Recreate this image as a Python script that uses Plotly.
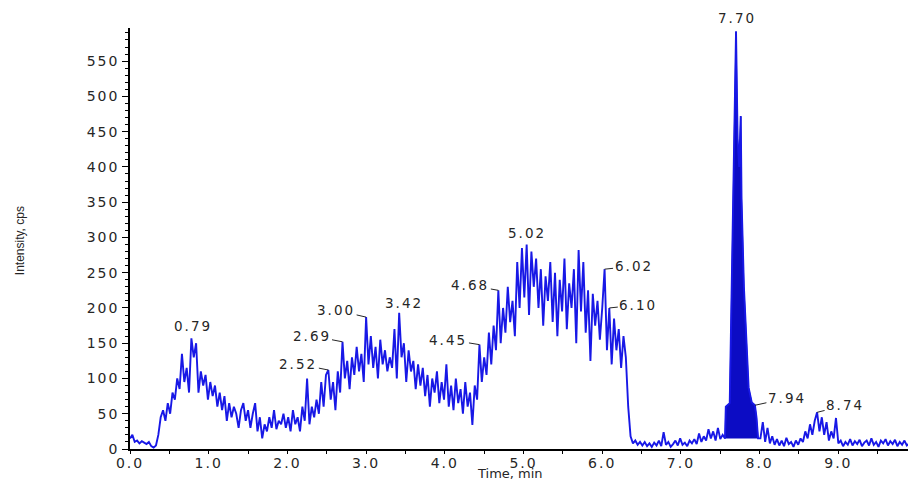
import plotly.graph_objects as go

# ---------------- data ----------------
step = 0.03
start_a = 0.0
intensity_a = [
    15, 20, 10, 12, 8, 11, 9, 7, 10, 4,
    2, 5, 20, 45, 55, 40, 65, 50, 80, 70,
    100, 85, 135, 95, 115, 80, 157, 130, 150, 80,
    110, 90, 105, 70, 95, 75, 90, 60, 80, 55,
    75, 40, 65, 45, 60, 50, 30, 55, 65, 40,
    55, 30, 50, 65, 25, 45, 15, 35, 25, 45,
    30, 55, 28, 40, 35, 50, 30, 45, 25, 55,
    35, 45, 25, 60, 40, 100, 35, 60, 45, 70,
    50, 95, 60, 105, 112, 70, 95, 55, 110, 80,
    152, 100, 125, 85, 130, 105, 145, 110, 135, 95,
    187, 120, 160, 115, 145, 100, 155, 120, 140, 110,
    130, 115, 170, 100, 193, 130, 150, 95, 140, 110,
    125, 85, 120, 90, 115, 75, 105, 60, 100, 80,
    110, 65, 95, 70, 120, 60, 90, 55, 100, 65,
    85, 50, 95, 60, 80, 34, 90, 70, 148, 95,
    130, 105, 165, 120, 175, 140, 225, 150, 200, 165,
    230, 180, 210, 160, 265, 200, 285, 215, 290, 190,
    280, 230, 270, 200, 255, 175, 245, 210, 265, 180,
    250, 160, 240, 195, 270, 170, 235, 200, 255, 150,
    282, 195, 265, 165, 225, 125, 220, 175, 210, 155,
    200, 255, 140, 200, 120, 185, 140, 170, 115, 160,
    130, 60, 18, 8, 12, 6, 10, 5, 10, 4,
    8, 3, 9, 5, 12, 4, 24, 6, 10, 3,
    7, 12, 5, 15, 6, 9, 4, 12, 8, 14,
    7, 22, 10, 18, 12, 28, 15, 25, 12, 30,
    14, 20,
]

peak_time = [7.56, 7.57, 7.62, 7.64, 7.66, 7.68, 7.70, 7.72, 7.74, 7.76,
             7.77, 7.80, 7.84, 7.86, 7.90, 7.94, 7.96, 7.98]
peak_intensity = [15, 60, 65, 200, 380, 520, 592, 440, 400, 472,
                  355, 230, 126, 87, 66, 62, 45, 15]

start_b = 8.01
intensity_b = [
    15, 38, 10, 30, 8, 18, 6, 14, 5, 12,
    4, 16, 7, 10, 3, 12, 6, 15, 10, 25,
    15, 35, 20, 40, 52, 25, 45, 20, 38, 12,
    25, 15, 44, 8, 12, 4, 10, 6, 14, 5,
    11, 7, 13, 4, 9, 12, 5, 15, 6, 10,
    3, 12, 8, 14, 5, 11, 7, 13, 4, 10,
    6, 12, 5, 8,
]

y_ticks = list(range(0, 551, 50))
x_ticks = list(range(0, 10))
x_tick_labels = [f"{v:.1f}" for v in x_ticks]

peak_labels = ["0.79", "2.52", "2.69", "3.00", "3.42", "4.45", "4.68",
               "5.02", "6.02", "6.10", "7.70", "7.94", "8.74"]

# ---------------- styles ----------------
label_style = {
    "0.79": ("above", 2, 2),
    "2.52": ("arrow", -30, -6),
    "2.69": ("arrow", -31, -6),
    "3.00": ("arrow", -30, -7),
    "3.42": ("above", 5, 0),
    "4.45": ("arrow", -31, -5),
    "4.68": ("arrow", -28, -5),
    "5.02": ("above", 0, 1),
    "6.02": ("arrow", 29, -3),
    "6.10": ("arrow", 29, -3),
    "7.70": ("above", 1, 4),
    "7.94": ("arrow", 32, -7),
    "8.74": ("arrow", 28, -7),
}

LINE_BLUE = "#1818e6"
FILL_BLUE = "#0c0cc4"
TEXT = "#262626"
FAMILY = "DejaVu Sans, Arial, sans-serif"
TICK_FONT = dict(family=FAMILY, size=14, color=TEXT)


def wide(s, sp=2):
    return f'<span style="letter-spacing:{sp}px">{s}</span>'


# ---------------- assemble series ----------------
time_a = [round(start_a + i * step, 4) for i in range(len(intensity_a))]
time_b = [round(start_b + i * step, 4) for i in range(len(intensity_b))]
time_all = time_a + peak_time + time_b
inten_all = intensity_a + peak_intensity + intensity_b

fig = go.Figure()
fig.add_trace(go.Scatter(
    x=peak_time, y=peak_intensity, mode="lines", fill="toself",
    fillcolor=FILL_BLUE, line=dict(color=FILL_BLUE, width=1),
    hoverinfo="skip", showlegend=False,
))
fig.add_trace(go.Scatter(
    x=time_all, y=inten_all, mode="lines",
    line=dict(color=LINE_BLUE, width=1.9),
    showlegend=False,
))

# peak labels tied to the data
for lab in peak_labels:
    tl = float(lab)
    cands = [(v, t) for t, v in zip(time_all, inten_all) if abs(t - tl) <= 0.0255]
    v, t = max(cands)
    mode, a, b = label_style[lab]
    font = dict(family=FAMILY, size=13.5, color=TEXT)
    if mode == "above":
        fig.add_annotation(x=t, y=v, text=wide(lab), showarrow=False,
                           yanchor="bottom", xshift=a, yshift=b, font=font)
    else:
        fig.add_annotation(x=t, y=v, text=wide(lab), showarrow=True, ax=a, ay=b,
                           arrowhead=0, arrowwidth=1, arrowcolor=TEXT,
                           standoff=0, startstandoff=0, font=font)

# axis titles
fig.add_annotation(xref="paper", yref="paper", x=-0.1414, y=0.496,
                   xanchor="center", yanchor="middle",
                   text="Intensity, cps", textangle=-90, showarrow=False,
                   font=dict(family="Liberation Sans Narrow, Liberation Sans, Arial Narrow, sans-serif",
                             size=12, color=TEXT))
fig.add_annotation(xref="paper", yref="paper", x=0.488, y=-0.036,
                   xanchor="center", yanchor="top", text="Time, min", showarrow=False,
                   font=dict(family=FAMILY, size=13, color=TEXT))

fig.update_layout(
    width=908, height=479,
    margin=dict(l=130, r=0, t=28, b=30),
    paper_bgcolor="white", plot_bgcolor="white",
    xaxis=dict(
        range=[0, 9.885], tickvals=x_ticks, ticktext=[wide(t) for t in x_tick_labels],
        showgrid=False, zeroline=False, showline=True, linecolor="black",
        linewidth=1.5, ticks="outside", ticklen=3, tickcolor="black",
        tickfont=TICK_FONT, ticklabelstandoff=-3,
        minor=dict(dtick=0.5, ticks="outside", ticklen=3, tickcolor="black"),
    ),
    yaxis=dict(
        range=[0, 597], tickvals=y_ticks, ticktext=[wide(v) for v in y_ticks],
        showgrid=False, zeroline=False, showline=True, linecolor="black",
        linewidth=1.5, ticks="outside", ticklen=6, tickcolor="black",
        tickfont=TICK_FONT,
        minor=dict(dtick=10, ticks="outside", ticklen=3, tickcolor="black"),
    ),
)

fig.write_html("out.html")
